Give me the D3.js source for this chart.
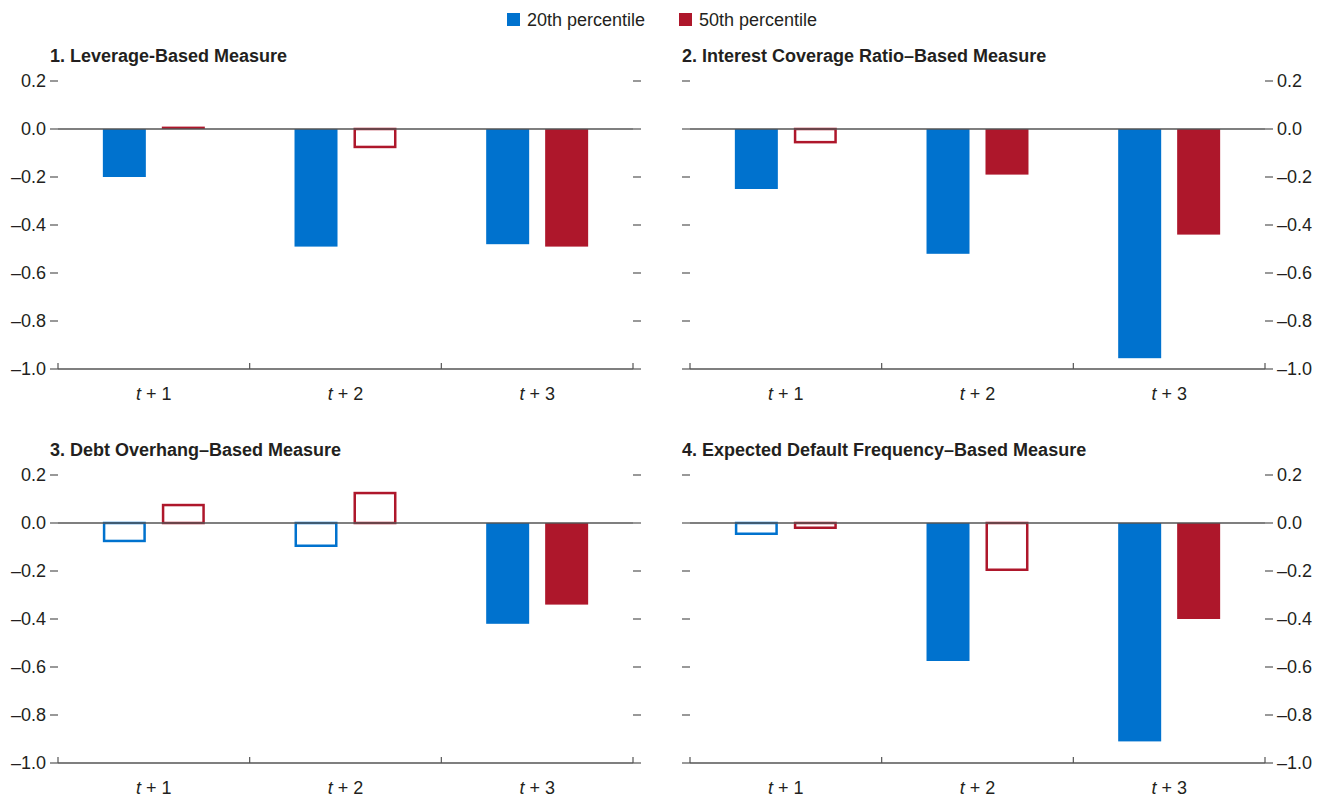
<!DOCTYPE html>
<html><head><meta charset="utf-8">
<script src="https://cdn.jsdelivr.net/npm/d3@7"></script>
<style>
body{margin:0;background:#fff;}
text{font-family:"Liberation Sans Narrow","Arial Narrow",sans-serif;fill:#231f20;}
</style></head>
<body>
<svg id="c" width="1328" height="799"></svg>
<script>
const categories = ["t + 1", "t + 2", "t + 3"];
const seriesNames = ["20th percentile", "50th percentile"];
const panelTitles = [
  "1. Leverage-Based Measure",
  "2. Interest Coverage Ratio\u2013Based Measure",
  "3. Debt Overhang\u2013Based Measure",
  "4. Expected Default Frequency\u2013Based Measure"
];
// values per panel: [20th, 50th] for t+1..t+3
const p20 = [
  [-0.20, -0.49, -0.48],
  [-0.25, -0.52, -0.955],
  [-0.08, -0.10, -0.42],
  [-0.05, -0.575, -0.91]
];
const p50 = [
  [0.01, -0.08, -0.49],
  [-0.06, -0.19, -0.44],
  [0.08, 0.13, -0.34],
  [-0.025, -0.20, -0.40]
];
// filled = significant, hollow = not significant
const sig20 = [
  [true, true, true],
  [true, true, true],
  [false, false, true],
  [false, true, true]
];
const sig50 = [
  [true, false, true],
  [false, true, true],
  [false, false, true],
  [false, false, true]
];
const yTicks = [0.2, 0.0, -0.2, -0.4, -0.6, -0.8, -1.0];
const colors = ["#0072ce", "#ae172b"];

const svg = d3.select("#c");
const fmt = v => (v < 0 ? "\u2013" : "") + Math.abs(v).toFixed(1);

// legend
const leg = svg.append("g");
const legX = [507, 679];
seriesNames.forEach((s, i) => {
  leg.append("rect").attr("x", legX[i]).attr("y", 13).attr("width", 13).attr("height", 13).attr("fill", colors[i]);
  leg.append("text").attr("x", legX[i] + 20).attr("y", 26).attr("font-size", 18).text(s);
});

const panels = [
  {x0: 58, y0: 81, side: "left"},
  {x0: 690, y0: 81, side: "right"},
  {x0: 58, y0: 475, side: "left"},
  {x0: 690, y0: 475, side: "right"}
];
const W = 575, H = 288;

panels.forEach((p, pi) => {
  const g = svg.append("g").attr("transform", `translate(${p.x0},${p.y0})`);
  const x = d3.scaleBand().domain(categories).range([0, W]).padding(0);
  const bw = x.bandwidth();
  const x1 = d3.scaleBand().domain(seriesNames).range([bw * 0.234, bw * 0.766]).paddingInner(0.271).paddingOuter(0);
  const y = d3.scaleLinear().domain([-1.0, 0.2]).range([H, 0]);

  // title
  g.append("text").attr("x", -8).attr("y", -19).attr("font-size", 18).attr("font-weight", "bold").text(panelTitles[pi]);

  // y ticks both sides
  const labelSide = p.side;
  yTicks.forEach(t => {
    g.append("line").attr("x1", -8).attr("x2", 0).attr("y1", y(t)).attr("y2", y(t)).attr("stroke", "#555").attr("stroke-width", 1.2);
    g.append("line").attr("x1", W).attr("x2", W + 8).attr("y1", y(t)).attr("y2", y(t)).attr("stroke", "#555").attr("stroke-width", 1.2);
    if (labelSide === "left") {
      g.append("text").attr("x", -12).attr("y", y(t)).attr("dy", "0.35em").attr("text-anchor", "end").attr("font-size", 18).text(fmt(t));
    } else {
      g.append("text").attr("x", W + 12).attr("y", y(t)).attr("dy", "0.35em").attr("text-anchor", "start").attr("font-size", 18).text(fmt(t));
    }
  });

  // bars
  const data = categories.map((c, i) => [
    {cat: c, s: seriesNames[0], v: p20[pi][i], sig: sig20[pi][i], col: colors[0]},
    {cat: c, s: seriesNames[1], v: p50[pi][i], sig: sig50[pi][i], col: colors[1]}
  ]).flat();
  const sw = 2.5;
  g.selectAll("rect.bar").data(data).join("rect")
    .attr("class", "bar")
    .attr("x", d => x(d.cat) + x1(d.s) + (d.sig ? 0 : sw / 2))
    .attr("width", d => x1.bandwidth() - (d.sig ? 0 : sw))
    .attr("y", d => Math.min(y(d.v), y(0)) + (d.sig ? 0 : (d.v < 0 ? 0 : sw / 2)))
    .attr("height", d => Math.max(0.5, Math.abs(y(d.v) - y(0)) - (d.sig ? 0 : sw / 2)))
    .attr("fill", d => d.sig ? d.col : "none")
    .attr("stroke", d => d.sig ? "none" : d.col)
    .attr("stroke-width", sw);

  // zero line
  g.append("line").attr("x1", 0).attr("x2", W).attr("y1", y(0)).attr("y2", y(0)).attr("stroke", "#555").attr("stroke-width", 1.3);

  // bottom axis
  g.append("line").attr("x1", 0).attr("x2", W).attr("y1", H).attr("y2", H).attr("stroke", "#555").attr("stroke-width", 1.3);
  const bounds = categories.map(c => x(c)).concat([W]);
  bounds.forEach(b => {
    g.append("line").attr("x1", b).attr("x2", b).attr("y1", H - 6).attr("y2", H).attr("stroke", "#555").attr("stroke-width", 1.2);
  });
  categories.forEach(c => {
    const parts = c.split(" ");
    const t = g.append("text").attr("x", x(c) + bw / 2).attr("y", H + 31).attr("text-anchor", "middle").attr("font-size", 18);
    t.append("tspan").attr("font-style", "italic").text(parts[0]);
    t.append("tspan").text(" " + parts.slice(1).join(" "));
  });
});
</script>
</body></html>
